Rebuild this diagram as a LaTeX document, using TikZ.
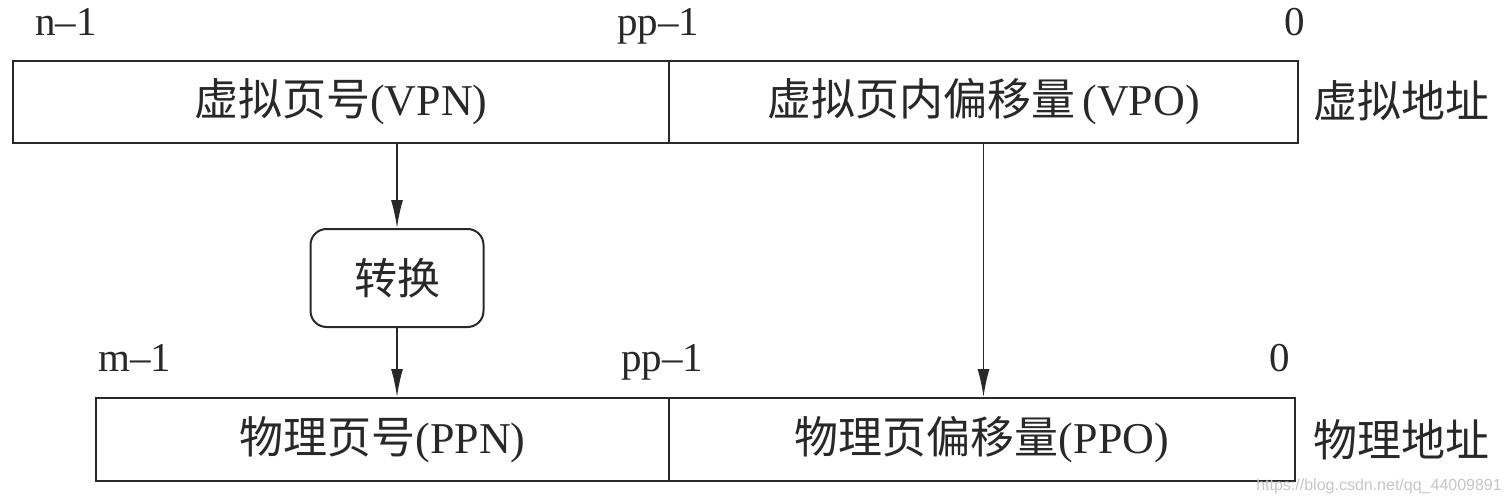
\documentclass[tikz,border=0pt]{standalone}
\usepackage{fontspec}
\setmainfont{Liberation Serif}
\newfontfamily\cjk{Noto Sans CJK SC}
\newfontfamily\wmfont{Liberation Sans}
\usetikzlibrary{arrows.meta,calc}
\definecolor{ink}{RGB}{40,40,40}
\begin{document}
\begin{tikzpicture}[x=1pt,y=-1pt,
  every node/.style={text=ink},
  field/.style={draw=ink,line width=2pt,inner sep=0pt,anchor=north west,
    font=\fontsize{44}{50}\selectfont},
  convbox/.style={draw=ink,line width=2pt,rounded corners=16pt,inner sep=0pt,
    minimum width=173pt,minimum height=98pt,font=\fontsize{43}{48}\selectfont\cjk},
  bitlabel/.style={inner sep=0pt,font=\fontsize{41}{48}\selectfont},
  sidelabel/.style={inner sep=0pt,anchor=west,font=\fontsize{44}{48}\selectfont\cjk},
  arr/.style={draw=ink,line width=1.6pt,-{Latex[length=28pt,width=12pt]}}
]
\useasboundingbox (0,0) rectangle (1508,500);
% virtual address fields
\node[field,minimum width=656pt,minimum height=82pt] (vpn) at (12,60) {{\cjk 虚拟页号}(VPN)};
\node[field,minimum width=629pt,minimum height=82pt] (vpo) at (668,60) {{\cjk 虚拟页内偏移量}\,(VPO)};
% physical address fields
\node[field,minimum width=573pt,minimum height=83pt] (ppn) at (95,397) {{\cjk 物理页号}(PPN)};
\node[field,minimum width=626pt,minimum height=83pt] (ppo) at (668,397) {{\cjk 物理页偏移量}(PPO)};
% translation box
\node[convbox] (conv) at (397,278) {转换};
% bit labels
\node[bitlabel,anchor=base west] (ln1) at (35,36) {n–1};
\node[bitlabel,anchor=base] (lp1) at (658,36) {pp–1};
\node[bitlabel,anchor=base] (lz1) at (1295,36) {0};
\node[bitlabel,anchor=base west] (lm2) at (98,371) {m–1};
\node[bitlabel,anchor=base] (lp2) at (662,371) {pp–1};
\node[bitlabel,anchor=base] (lz2) at (1280,371) {0};
% side labels
\node[sidelabel] (va) at (1313,101) {虚拟地址};
\node[sidelabel] (pa) at (1313,440) {物理地址};
% watermark
\node[inner sep=0pt,anchor=base east,text=gray!45,font=\fontsize{16}{18}\selectfont\wmfont] (wm) at (1502,490) {https://blog.csdn.net/qq\_44009891};
% connectors
\draw[arr] (conv.north |- vpn.south) -- (conv.north);
\draw[arr] (conv.south) -- (conv.south |- ppn.north);
\draw[arr] (vpo.south) -- (vpo.south |- ppo.north);
\end{tikzpicture}
\end{document}
